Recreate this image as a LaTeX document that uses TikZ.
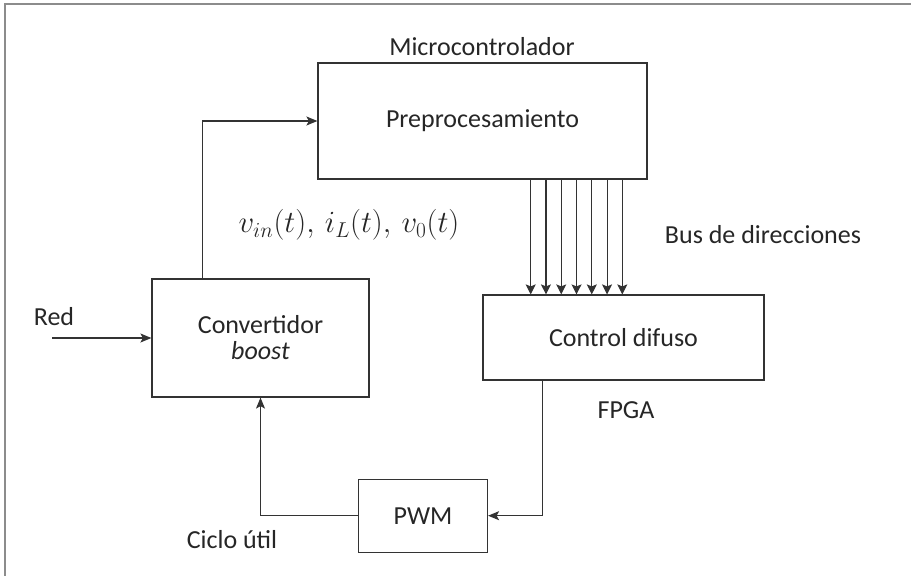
\documentclass[tikz,border=0pt]{standalone}
\usepackage{fontspec}
\setmainfont{Carlito}
\usetikzlibrary{arrows.meta}
\begin{document}
\begin{tikzpicture}[x=1pt,y=-1pt,
  every node/.style={font=\fontsize{26}{30}\selectfont, text=black!85},
  block/.style={draw=black!80, line width=1.2pt, rectangle, inner sep=0pt, align=center},
  arr/.style={draw=black!80, line width=1.2pt, -{Stealth[length=11pt,width=9pt,inset=2.5pt]}},
  busarr/.style={draw=black!80, line width=1.1pt, -{Stealth[length=10pt,width=10pt,inset=2pt]}}]
\useasboundingbox (0,0) rectangle (911,576);
\draw [black!45, line width=1.2pt] (5,576) |- (911,4);
% bloques
\node [block, minimum width=329pt, minimum height=116pt] (pre) at (482.5,121) {Preprocesamiento};
\node [block, minimum width=217pt, minimum height=118pt] (conv) at (260.5,338) {Convertidor\\[-4pt] \textit{boost}};
\node [block, minimum width=281pt, minimum height=85pt] (fuzzy) at (623.5,337.5) {Control difuso};
\node [block, minimum width=129pt, minimum height=73pt] (pwm) at (423,515.7) {PWM};
% textos
\node (micro) at (482,47) {Microcontrolador};
\node (red) at (54,317) {Red};
\node [scale=1.24] (sig) at (349,225) {$v_{in}(t),\, i_L(t),\, v_0(t)$};
\node (bus) at (763,235) {Bus de direcciones};
\node (fpga) at (626,410) {FPGA};
\node (ciclo) at (232,540) {Ciclo útil};
% conexiones
\coordinate (redin) at (52,338);
\draw [arr] (redin) -- (conv.west);
\draw [arr] ([xshift=51pt]conv.north west) |- (pre.west);
\foreach \i in {0,...,6} {
  \coordinate (b\i) at ({530.7+15.27*\i},0);
  \draw [busarr] (pre.south -| b\i) -- (fuzzy.north -| b\i);
}
\draw [arr] ([xshift=60pt]fuzzy.south west) |- (pwm.east);
\draw [arr] (pwm.west) -| (conv.south);
\end{tikzpicture}
\end{document}
